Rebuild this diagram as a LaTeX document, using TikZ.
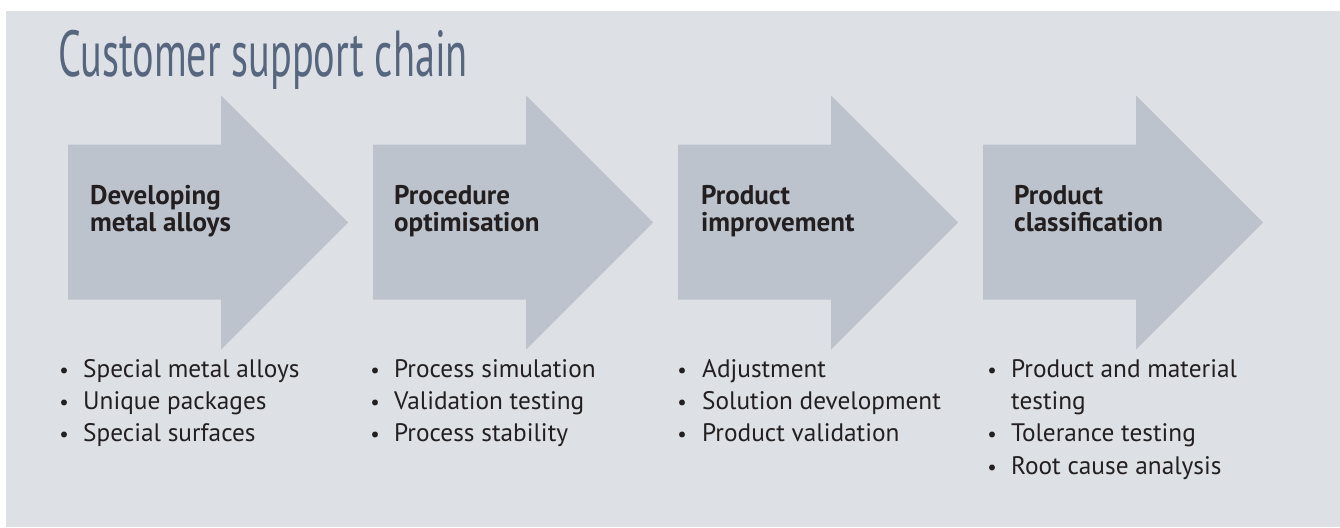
\documentclass[tikz,border=0pt]{standalone}
\usepackage{fontspec}
\setmainfont{PT Sans}
\newfontfamily\titlefont[FakeStretch=0.62]{PT Sans}
\definecolor{bgcol}{HTML}{DDE0E5}
\definecolor{arrowcol}{HTML}{BDC3CD}
\definecolor{titlecol}{HTML}{56667F}
\definecolor{textcol}{HTML}{231F20}
\tikzset{
  chev/.style={fill=arrowcol},
  headtxt/.style={anchor=base west, inner sep=0pt, align=left, text=textcol, font=\fontsize{27}{27}\selectfont\bfseries},
  itemtxt/.style={anchor=base west, inner sep=0pt, text=textcol, font=\fontsize{25.3}{32}\selectfont},
  bul/.style={anchor=base, inner sep=0pt, text=textcol, font=\fontsize{21}{32}\selectfont},
}
\begin{document}
\begin{tikzpicture}[x=1pt,y=-1pt]
\useasboundingbox (0,0) rectangle (1340,527);
\fill[white] (0,0) rectangle (1340,527);
\fill[bgcol] (6,11) rectangle (1340,527);
\node[anchor=base west, inner sep=0pt, text=titlecol, font=\titlefont\fontsize{65}{65}\selectfont] (title) at (58,77) {Customer support chain};
\foreach \x in {68,373,678,983}{
  \fill[chev] (\x,144.5) -- (\x+153,144.5) -- (\x+153,95.5) -- (\x+280,222.5) -- (\x+153,349.5) -- (\x+153,299.5) -- (\x,299.5) -- cycle;
}
% multi-line nodes: base anchor is the baseline of the last line
\node[headtxt] (h1) at (90,231) {Developing\\metal alloys};
\node[headtxt] (h2) at (394,231) {Procedure\\optimisation};
\node[headtxt] (h3) at (701,231) {Product\\improvement};
\node[headtxt] (h4) at (1014,231) {Product\\classification};
% column 1
\node[bul] (b11) at (64,377) {•}; \node[itemtxt] (t11) at (83,377) {Special metal alloys};
\node[bul] (b12) at (64,409) {•}; \node[itemtxt] (t12) at (83,409) {Unique packages};
\node[bul] (b13) at (64,441) {•}; \node[itemtxt] (t13) at (83,441) {Special surfaces};
% column 2
\node[bul] (b21) at (375,377) {•}; \node[itemtxt] (t21) at (394,377) {Process simulation};
\node[bul] (b22) at (375,409) {•}; \node[itemtxt] (t22) at (394,409) {Validation testing};
\node[bul] (b23) at (375,441) {•}; \node[itemtxt] (t23) at (394,441) {Process stability};
% column 3
\node[bul] (b31) at (682,377) {•}; \node[itemtxt] (t31) at (702,377) {Adjustment};
\node[bul] (b32) at (682,409) {•}; \node[itemtxt] (t32) at (702,409) {Solution development};
\node[bul] (b33) at (682,441) {•}; \node[itemtxt] (t33) at (702,441) {Product validation};
% column 4
\node[bul] (b41) at (992,377) {•}; \node[itemtxt] (t41) at (1011,377) {Product and material};
\node[itemtxt] (t41b) at (1011,409) {testing};
\node[bul] (b42) at (992,441) {•}; \node[itemtxt] (t42) at (1011,441) {Tolerance testing};
\node[bul] (b43) at (992,474) {•}; \node[itemtxt] (t43) at (1011,474) {Root cause analysis};
\end{tikzpicture}
\end{document}
